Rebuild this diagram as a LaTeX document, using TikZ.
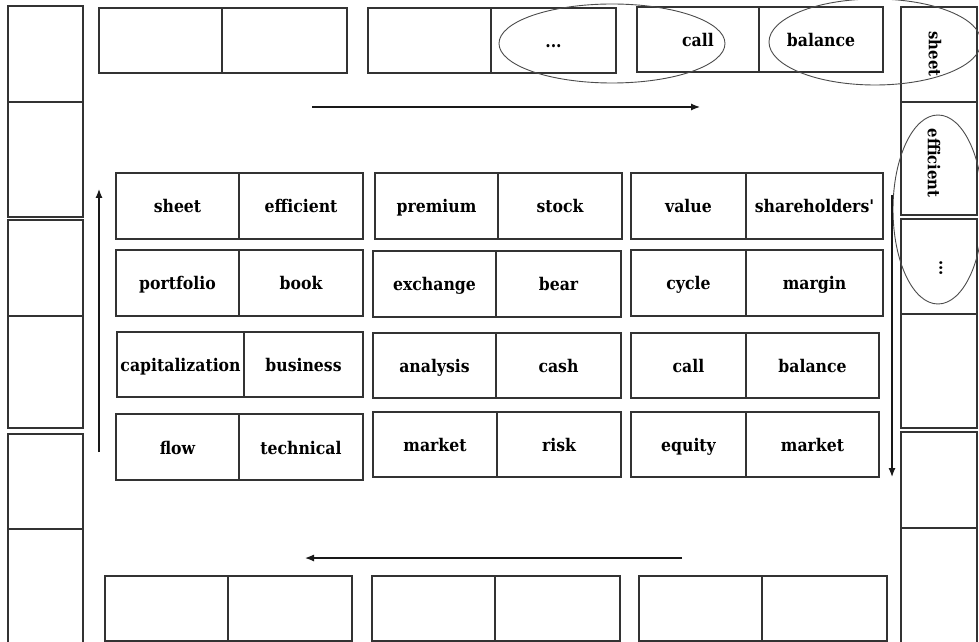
\documentclass[tikz,border=0pt]{standalone}
\usepackage{fontspec}
\setmainfont{DejaVu Serif Condensed}[Ligatures=TeXOff]
\usetikzlibrary{arrows.meta,shapes.geometric}
\tikzset{
  cellbox/.style={draw=black!80, line width=1.25bp, rectangle, inner sep=0pt,
    text height=14bp, text depth=0bp,
    font=\fontsize{17.5}{19}\selectfont\bfseries, text=black},
  ringshape/.style={draw=black!70, line width=0.9bp, ellipse, inner sep=0pt},
  flowarrow/.style={draw=black!90, line width=1.2bp, -{Latex[length=9bp,width=7bp]}},
  sidetext/.style={font=\fontsize{16.5}{18}\selectfont\bfseries, rotate=-90, inner sep=0pt}
}
% name, x1, y1, x2, y2, text
\newcommand\cellnode[6]{%
  \node[cellbox, minimum width={(#4-#2)*1bp}, minimum height={(#5-#3)*1bp}]
    (#1) at ({(#2+#4)/2},{(#3+#5)/2}) {#6};}
% pair: name, x1, xm, x2, y1, y2, left text, right text
\newcommand\pairnode[8]{%
  \cellnode{#1a}{#2}{#5}{#3}{#6}{#7}%
  \cellnode{#1b}{#3}{#5}{#4}{#6}{#8}}
\begin{document}
\begin{tikzpicture}[x=1bp,y=-1bp]
\clip (0,0) rectangle (979,642);
\fill[white] (0,0) rectangle (979,642);
% left column
\cellnode{L1a}{8}{6}{83}{102}{}
\cellnode{L1b}{8}{102}{83}{217}{}
\cellnode{L2a}{8}{220}{83}{316}{}
\cellnode{L2b}{8}{316}{83}{428}{}
\cellnode{L3a}{8}{434}{83}{529}{}
\cellnode{L3b}{8}{529}{83}{665}{}
% right column
\cellnode{R1a}{901}{7}{977}{102}{}
\cellnode{R1b}{901}{102}{977}{215}{}
\cellnode{R2a}{901}{219}{977}{314}{}
\cellnode{R2b}{901}{314}{977}{428}{}
\cellnode{R3a}{901}{432}{977}{528}{}
\cellnode{R3b}{901}{528}{977}{665}{}
\node[sidetext] (s1) at (935,54) {sheet};
\node[sidetext] (s2) at (934,163) {efficient};
\node[sidetext] (s3) at (941,268) {...};
% top row
\pairnode{T1}{99}{222}{347}{8}{73}{}{}
\pairnode{T2}{368}{491}{616}{8}{73}{}{...}
\pairnode{T3}{637}{759}{883}{7}{72}{call}{balance}
% grid
\pairnode{G11}{116}{239}{363}{173}{239}{sheet}{efficient}
\pairnode{G21}{116}{239}{363}{250}{316}{portfolio}{book}
\pairnode{G31}{117}{244}{363}{332}{397}{capitalization}{business}
\pairnode{G41}{116}{239}{363}{414}{480}{flow}{technical}
\pairnode{G12}{375}{498}{622}{173}{239}{premium}{stock}
\pairnode{G22}{373}{496}{621}{251}{317}{exchange}{bear}
\pairnode{G32}{373}{496}{621}{333}{398}{analysis}{cash}
\pairnode{G42}{373}{497}{621}{412}{477}{market}{risk}
\pairnode{G13}{631}{746}{883}{173}{239}{value}{shareholders'}
\pairnode{G23}{631}{746}{883}{250}{316}{cycle}{margin}
\pairnode{G33}{631}{746}{879}{333}{398}{call}{balance}
\pairnode{G43}{631}{746}{879}{412}{477}{equity}{market}
% bottom row
\pairnode{B1}{105}{228}{352}{576}{641}{}{}
\pairnode{B2}{372}{495}{620}{576}{641}{}{}
\pairnode{B3}{639}{762}{887}{576}{641}{}{}
% ellipses
\node[ringshape, minimum width=226bp, minimum height=79bp] (e1) at (612,43.5) {};
\node[ringshape, minimum width=212bp, minimum height=86bp] (e2) at (875,42) {};
\node[ringshape, minimum width=90bp, minimum height=189bp] (e3) at (938,209.5) {};
% arrows
\coordinate (a1s) at (312,107); \coordinate (a1e) at (700,107);
\coordinate (a2s) at (892,195); \coordinate (a2e) at (892,477);
\coordinate (a3s) at (682,558); \coordinate (a3e) at (305,558);
\coordinate (a4s) at (99,452);  \coordinate (a4e) at (99,189);
\draw[flowarrow] (a1s) -- (a1e);
\draw[flowarrow] (a2s) -- (a2e);
\draw[flowarrow] (a3s) -- (a3e);
\draw[flowarrow] (a4s) -- (a4e);
\end{tikzpicture}
\end{document}
